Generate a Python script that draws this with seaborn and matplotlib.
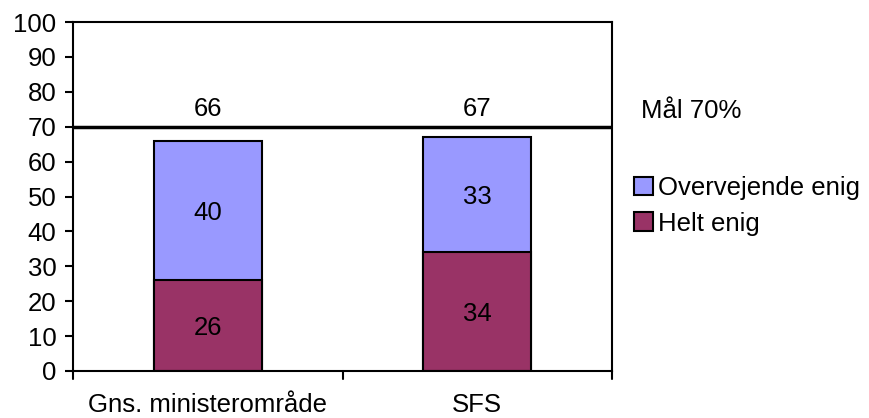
import matplotlib
matplotlib.use("Agg")
import matplotlib.pyplot as plt
import seaborn as sns
import pandas as pd
import numpy as np
from matplotlib.patches import Patch

categories = ["Gns. ministerområde", "SFS"]
helt_enig = [26, 34]
overvejende_enig = [40, 33]
target = 70
target_label = "Mål 70%"
y_ticks = list(range(0, 101, 10))

sns.set_theme(style="white")
plt.rcParams["font.family"] = ["Liberation Sans", "DejaVu Sans"]
plt.rcParams["text.color"] = "black"
plt.rcParams["xtick.color"] = "black"
plt.rcParams["ytick.color"] = "black"

col_over = "#9999FF"
col_helt = "#993366"

totals = [h + o for h, o in zip(helt_enig, overvejende_enig)]
df = pd.DataFrame({"kategori": categories, "helt": helt_enig,
                   "over": overvejende_enig, "total": totals})

fig = plt.figure(figsize=(8.69, 4.18), dpi=100)
ax = fig.add_axes([73 / 869, 1 - 371 / 418, (612 - 73) / 869, (371 - 22) / 418])

sns.barplot(data=df, x="kategori", y="total", color=col_over, width=0.4,
            edgecolor="black", linewidth=1.5, saturation=1, ax=ax)
sns.barplot(data=df, x="kategori", y="helt", color=col_helt, width=0.4,
            edgecolor="black", linewidth=1.5, saturation=1, ax=ax)

fs = 18.5
for i, (h, o, t) in enumerate(zip(helt_enig, overvejende_enig, totals)):
    ax.text(i, h / 2 - 0.6, f"{h}", ha="center", va="center", fontsize=fs, color="black")
    ax.text(i, h + o / 2 - 0.6, f"{o}", ha="center", va="center", fontsize=fs, color="black")
    ax.text(i, 75.0, f"{t}", ha="center", va="center", fontsize=fs, color="black")

ax.axhline(target, color="black", linewidth=2.5, zorder=5)

ax.set_xlim(-0.5, 1.5)
ax.set_ylim(0, 100)
ax.set_yticks(y_ticks)
ax.set_yticklabels([str(v) for v in y_ticks], fontsize=fs, color="black")
ax.set_xticks([0, 1])
ax.set_xticklabels(categories, fontsize=fs, color="black")
ax.tick_params(axis="x", length=0, pad=16)
ax.tick_params(axis="y", length=6, width=1.5, direction="out", left=True, pad=6)
# category separator ticks on the x axis
for xb in [-0.5, 0.5, 1.5]:
    ax.plot([xb, xb], [0, -2.4], color="black", linewidth=1.5, clip_on=False,
            transform=ax.transData)
ax.set_xlabel("")
ax.set_ylabel("")
for s in ax.spines.values():
    s.set_color("black")
    s.set_linewidth(1.5)

fig.text(641 / 869, 1 - 111 / 418, target_label, fontsize=fs, va="center", ha="left",
         color="black")
handles = [Patch(facecolor=col_over, edgecolor="black", linewidth=1.5),
           Patch(facecolor=col_helt, edgecolor="black", linewidth=1.5)]
leg = fig.legend(handles, ["Overvejende enig", "Helt enig"], loc="upper left",
                 bbox_to_anchor=(634 / 869, 1 - 176 / 418), frameon=False, fontsize=fs,
                 handlelength=0.75, handleheight=0.75, handletextpad=0.2,
                 labelspacing=0.45, borderaxespad=0, borderpad=0)
for t in leg.get_texts():
    t.set_color("black")

fig.savefig("out.png", dpi=100)
